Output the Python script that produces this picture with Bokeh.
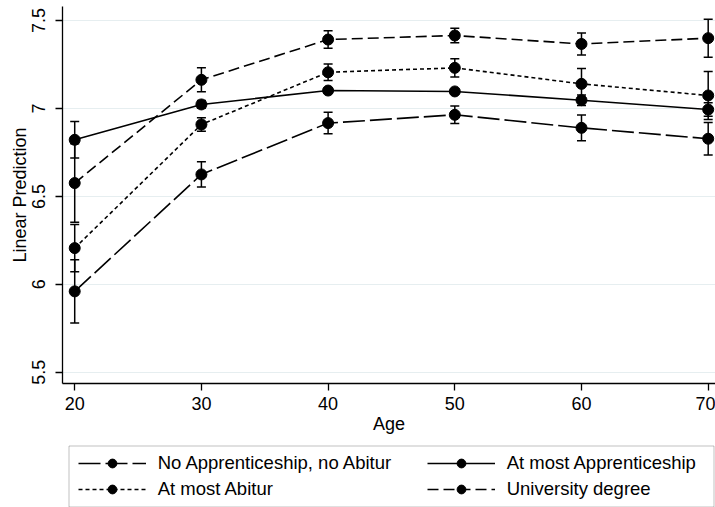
from bokeh.plotting import figure
from bokeh.layouts import column
from bokeh.models import (ColumnDataSource, Whisker, TeeHead, Legend, LegendItem,
                          FixedTicker, Range1d, NumeralTickFormatter, BoxAnnotation)
from bokeh.embed import file_html
from bokeh.resources import INLINE

FONT = "Liberation Sans"

# Predicted values (with confidence half-widths) by age and education group
ages = [20, 30, 40, 50, 60, 70]

no_app = [5.960, 6.625, 6.917, 6.964, 6.890, 6.828]
no_app_ci = [0.180, 0.072, 0.061, 0.050, 0.073, 0.093]

app = [6.822, 7.023, 7.102, 7.097, 7.047, 6.994]
app_ci = [0.104, 0.022, 0.012, 0.012, 0.030, 0.038]

abitur = [6.206, 6.909, 7.206, 7.231, 7.140, 7.074]
abitur_ci = [0.134, 0.039, 0.047, 0.052, 0.087, 0.136]

uni = [6.576, 7.163, 7.392, 7.415, 7.367, 7.400]
uni_ci = [0.223, 0.068, 0.050, 0.041, 0.063, 0.108]

x_ticks = [20, 30, 40, 50, 60, 70]
y_ticks = [5.5, 6, 6.5, 7, 7.5]

series = [
    ("No Apprenticeship, no Abitur", no_app, no_app_ci, "22 5"),
    ("At most Apprenticeship", app, app_ci, "solid"),
    ("At most Abitur", abitur, abitur_ci, "4 3"),
    ("University degree", uni, uni_ci, "11 5"),
]

W = 715
PLOT_H = 440
KEY_H = 507 - PLOT_H
LEFT = 62  # width of the y-axis gutter; the key strip's frame lines up with it

# ---- main chart -------------------------------------------------------
p = figure(width=W, height=PLOT_H,
           x_range=Range1d(19.036, 70.577), y_range=Range1d(5.436, 7.58),
           output_backend="svg", toolbar_location=None,
           min_border_left=LEFT, min_border_right=0,
           min_border_top=6, min_border_bottom=57)
p.outline_line_color = None
p.background_fill_color = "white"
p.border_fill_color = "white"

p.xgrid.visible = False
p.ygrid.grid_line_color = "#e6eef0"
p.ygrid.grid_line_width = 1

p.xaxis.ticker = FixedTicker(ticks=x_ticks)
p.yaxis.ticker = FixedTicker(ticks=y_ticks)
p.yaxis.formatter = NumeralTickFormatter(format="0.[0]")
p.xaxis.axis_label = "Age"
p.yaxis.axis_label = "Linear Prediction"

for ax in (p.xaxis[0], p.yaxis[0]):
    ax.axis_line_color = "black"
    ax.axis_line_width = 1.3
    ax.major_tick_line_color = "black"
    ax.major_tick_line_width = 1.3
    ax.major_tick_out = 7
    ax.major_tick_in = 0
    ax.minor_tick_line_color = None
    ax.major_label_text_font = FONT
    ax.major_label_text_font_size = "18px"
    ax.major_label_text_color = "black"
    ax.axis_label_text_font = FONT
    ax.axis_label_text_font_size = "18px"
    ax.axis_label_text_font_style = "normal"
    ax.axis_label_text_color = "black"

p.yaxis.major_label_orientation = "vertical"
p.yaxis.major_label_standoff = 10
p.yaxis.axis_label_standoff = 0
p.xaxis.major_label_standoff = 6
p.xaxis.axis_label_standoff = 1

# ---- legend strip -----------------------------------------------------
# its frame is aligned with the chart frame (x from LEFT to W), so the
# x range is expressed in page pixels
q = figure(width=W, height=KEY_H,
           x_range=Range1d(LEFT, W), y_range=Range1d(0, KEY_H),
           output_backend="svg", toolbar_location=None,
           x_axis_location=None, y_axis_location=None,
           min_border_left=LEFT, min_border_right=0,
           min_border_top=0, min_border_bottom=0)
q.outline_line_color = None
q.xgrid.visible = False
q.ygrid.visible = False
q.background_fill_color = "white"
q.border_fill_color = "white"

# frame around the key
q.add_layout(BoxAnnotation(left=68.5, right=713.5, bottom=0.5, top=KEY_H - 5.5,
                           fill_color="white", fill_alpha=1,
                           line_color="#333333", line_width=1, level="underlay"))

key_items = []
for label, vals, ci, dash in series:
    src = ColumnDataSource(dict(
        x=ages, y=vals,
        lo=[v - c for v, c in zip(vals, ci)],
        hi=[v + c for v, c in zip(vals, ci)],
    ))
    head = dict(size=9, line_color="black", line_width=1.5)
    p.add_layout(Whisker(base="x", upper="hi", lower="lo", source=src,
                         dimension="height", line_color="black", line_width=1.5,
                         upper_head=TeeHead(**head), lower_head=TeeHead(**head)))
    line_style = dict(line_color="black", line_width=1.6, line_dash=dash)
    mark_style = dict(marker="circle", size=11, fill_color="black", line_color="black")
    p.line("x", "y", source=src, **line_style)
    p.scatter("x", "y", source=src, **mark_style)

    # hidden twins that only feed the key
    kl = q.line("x", "y", source=src, visible=False, **line_style)
    km = q.scatter("x", "y", source=src, visible=False, **mark_style)
    key_items.append(LegendItem(label=label, renderers=[kl, km]))

key_style = dict(glyph_width=68, glyph_height=22, label_height=22,
                 label_standoff=12, padding=0, spacing=4, margin=0,
                 label_text_font=FONT, label_text_font_size="18.5px",
                 label_text_color="black", border_line_color=None,
                 background_fill_alpha=0, click_policy="none")

left_key = Legend(items=[key_items[0], key_items[2]],
                  location=(77.7 - LEFT, 7.3), **key_style)
right_key = Legend(items=[key_items[1], key_items[3]],
                   location=(426.7 - LEFT, 7.3), **key_style)
q.add_layout(left_key)
q.add_layout(right_key)

page = column(p, q, spacing=0)
open("out.html", "w").write(file_html(page, INLINE))
